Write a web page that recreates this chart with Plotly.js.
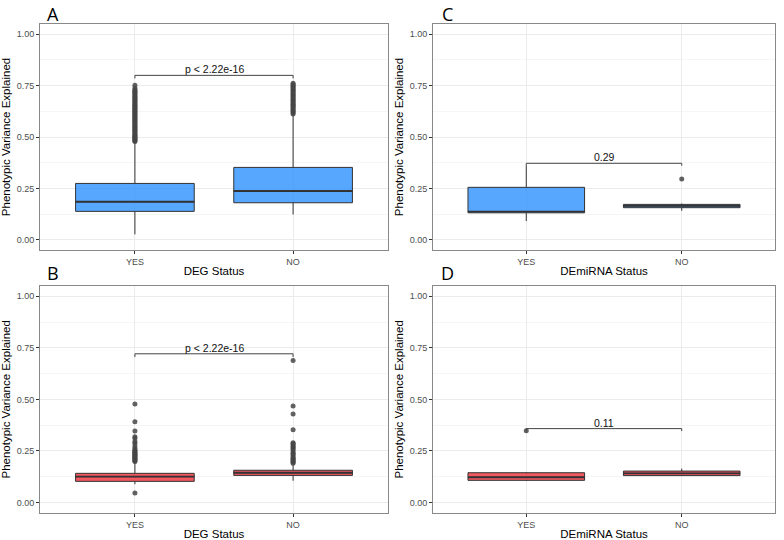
<!DOCTYPE html>
<html><head><meta charset="utf-8">
<script src="https://cdn.plot.ly/plotly-3.0.1.min.js"></script>
<style>body{margin:0;padding:0;background:#fff}#plot{width:784px;height:540px}</style>
</head><body><div id="plot"></div>
<script>
// ---- data ----
const categories = ['YES', 'NO'];
const positions = [1, 2];
const panelLabels = ['A', 'C', 'B', 'D'];
const xTitles = ['DEG Status', 'DEmiRNA Status', 'DEG Status', 'DEmiRNA Status'];
const yTitle = 'Phenotypic Variance Explained';
const yTickVals = [0, 0.25, 0.5, 0.75, 1.0];
const yTickText = ['0.00', '0.25', '0.50', '0.75', '1.00'];

// box statistics per panel [YES, NO]
const q1A = [0.138, 0.180], medA = [0.185, 0.237], q3A = [0.274, 0.352], loA = [0.026, 0.123], hiA = [0.475, 0.608];
const q1C = [0.131, 0.156], medC = [0.137, 0.165], q3C = [0.255, 0.172], loC = [0.091, 0.141], hiC = [0.360, 0.176];
const q1B = [0.102, 0.131], medB = [0.125, 0.144], q3B = [0.141, 0.156], loB = [0.088, 0.105], hiB = [0.197, 0.185];
const q1D = [0.107, 0.130], medD = [0.122, 0.141], q3D = [0.144, 0.152], loD = [0.104, 0.128], hiD = [0.147, 0.164];

// outliers
const outA_yes = [0.478,0.482,0.486,0.49,0.494,0.498,0.502,0.506,0.51,0.515,0.52,0.525,0.53,0.535,0.54,0.545,0.55,0.555,0.56,0.565,0.57,0.575,0.58,0.585,0.59,0.595,0.6,0.605,0.61,0.615,0.62,0.625,0.63,0.635,0.64,0.645,0.65,0.655,0.66,0.665,0.67,0.675,0.68,0.685,0.69,0.695,0.7,0.705,0.71,0.715,0.72,0.725,0.73,0.738,0.752];
const outA_no = [0.612,0.618,0.624,0.63,0.636,0.642,0.648,0.654,0.66,0.666,0.672,0.678,0.684,0.69,0.696,0.702,0.708,0.714,0.72,0.726,0.732,0.738,0.744,0.75,0.756,0.762];
const outC_yes = [];
const outC_no = [0.295];
const outB_yes = [0.045,0.198,0.202,0.206,0.21,0.214,0.218,0.222,0.226,0.23,0.234,0.238,0.242,0.246,0.25,0.254,0.263,0.274,0.287,0.295,0.311,0.319,0.347,0.391,0.478];
const outB_no = [0.19,0.196,0.2,0.206,0.21,0.214,0.222,0.23,0.236,0.241,0.25,0.259,0.265,0.271,0.279,0.285,0.29,0.352,0.429,0.468,0.689];
const outD_yes = [0.348];
const outD_no = [];

// significance brackets
const bracketY = [0.800, 0.372, 0.721, 0.358];
const bracketDrop = [0.015, 0.012, 0.016, 0.012];
const bracketText = ['p < 2.22e-16', '0.29', 'p < 2.22e-16', '0.11'];

// ---- styling ----
const blue = 'rgba(37,140,255,0.77)';
const red = 'rgba(240,36,48,0.77)';
const lineCol = '#333333';
const boxW = 0.75;

const panels = [
  {q1:q1A, med:medA, q3:q3A, lo:loA, hi:hiA, oy:outA_yes, on:outA_no, fill:blue},
  {q1:q1C, med:medC, q3:q3C, lo:loC, hi:hiC, oy:outC_yes, on:outC_no, fill:blue},
  {q1:q1B, med:medB, q3:q3B, lo:loB, hi:hiB, oy:outB_yes, on:outB_no, fill:red},
  {q1:q1D, med:medD, q3:q3D, lo:loD, hi:hiD, oy:outD_yes, on:outD_no, fill:red}
];
const domX = [[40/784, 388/784], [433/784, 775/784], [40/784, 388/784], [433/784, 775/784]];
const domY = [[1-250/540, 1-24/540], [1-250/540, 1-24/540], [1-512.7/540, 1-286/540], [1-512.7/540, 1-286/540]];

const traces = [];
const layout = {
  width: 784, height: 540,
  margin: {l:0, r:0, t:0, b:0},
  paper_bgcolor: '#ffffff', plot_bgcolor: '#ffffff',
  showlegend: false,
  font: {family: 'Liberation Sans, Arial, sans-serif', color: '#000'},
  annotations: [], shapes: []
};

panels.forEach((p, i) => {
  const s = i === 0 ? '' : String(i + 1);
  const xa = 'x' + s, ya = 'y' + s;
  traces.push({
    type: 'box', xaxis: xa, yaxis: ya,
    x: positions, q1: p.q1, median: p.med, q3: p.q3,
    lowerfence: p.lo, upperfence: p.hi,
    width: boxW, boxpoints: false, whiskerwidth: 0,
    fillcolor: p.fill, line: {color: lineCol, width: 1},
    hoverinfo: 'skip'
  });
  // thicker median lines
  positions.forEach((pos, k) => {
    traces.push({
      type: 'scatter', mode: 'lines', xaxis: xa, yaxis: ya,
      x: [pos - boxW/2, pos + boxW/2], y: [p.med[k], p.med[k]],
      line: {color: lineCol, width: 1.9}, hoverinfo: 'skip'
    });
  });
  // outliers
  [p.oy, p.on].forEach((arr, k) => {
    if (!arr.length) return;
    traces.push({
      type: 'scatter', mode: 'markers', xaxis: xa, yaxis: ya,
      x: arr.map(() => positions[k]), y: arr,
      marker: {color: 'rgba(70,70,70,0.85)', size: 5}, hoverinfo: 'skip'
    });
  });
  // bracket
  traces.push({
    type: 'scatter', mode: 'lines', xaxis: xa, yaxis: ya,
    x: [positions[0], positions[0], positions[1], positions[1]],
    y: [bracketY[i] - bracketDrop[i], bracketY[i], bracketY[i], bracketY[i] - bracketDrop[i]],
    line: {color: '#444', width: 1}, hoverinfo: 'skip'
  });
  layout.annotations.push({
    xref: xa, yref: ya, x: (positions[0] + positions[1]) / 2, y: bracketY[i],
    text: bracketText[i], showarrow: false, yanchor: 'bottom', yshift: -2,
    font: {size: 10.5, color: '#111', family: 'Liberation Sans, Arial, sans-serif'}
  });

  layout['xaxis' + s] = {
    domain: domX[i], anchor: ya, range: [0.4, 2.6],
    tickvals: positions, ticktext: categories,
    ticks: 'outside', ticklen: 3, tickcolor: '#333', tickwidth: 1,
    tickfont: {size: 9, color: '#4d4d4d'},
    showgrid: true, gridcolor: '#ebebeb', gridwidth: 1,
    zeroline: false, showline: true, mirror: true, linecolor: '#888', linewidth: 1,
    title: {text: xTitles[i], font: {size: 11.5, color: '#000'}, standoff: 1},
    automargin: false
  };
  layout['yaxis' + s] = {
    domain: domY[i], anchor: xa, range: [-0.05, 1.05],
    tickvals: yTickVals, ticktext: yTickText,
    ticks: 'outside', ticklen: 3, tickcolor: '#333', tickwidth: 1,
    tickfont: {size: 9, color: '#4d4d4d'},
    showgrid: true, gridcolor: '#ebebeb', gridwidth: 1,
    minor: {tickvals: [0.125, 0.375, 0.625, 0.875], showgrid: true, gridcolor: '#f5f5f5', gridwidth: 1, ticks: ''},
    zeroline: false, showline: true, mirror: true, linecolor: '#888', linewidth: 1,
    title: {text: yTitle, font: {size: 11.5, color: '#000'}, standoff: 3},
    automargin: false
  };
  layout.annotations.push({
    xref: 'paper', yref: 'paper',
    x: (i % 2 === 0 ? 53 : 447) / 784, y: 1 - (i < 2 ? 14 : 273) / 540,
    text: panelLabels[i], showarrow: false, xanchor: 'center', yanchor: 'middle',
    font: {size: 18, color: '#000', family: 'Open Sans, Liberation Sans, sans-serif', weight: 500}
  });
});

Plotly.newPlot('plot', traces, layout, {staticPlot: true, displayModeBar: false});
</script>
</body></html>
